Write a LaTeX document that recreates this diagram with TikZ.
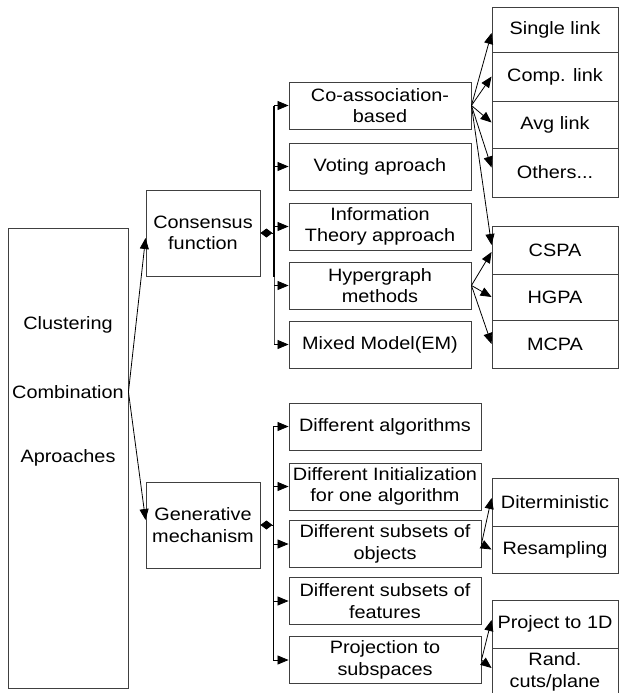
\documentclass[tikz,border=0pt]{standalone}
\usepackage{fontspec}
\setmainfont{Liberation Sans}[FakeStretch=1.11]
\usetikzlibrary{arrows.meta,calc}
\begin{document}
\begin{tikzpicture}[x=1pt,y=-1pt,
  box/.style={draw=black!75,line width=0.9pt,rectangle,inner sep=0pt,align=center,
    font=\fontsize{17.9}{21.5}\selectfont},
  mid/.style={box,minimum width=182pt,minimum height=47pt},
  gmid/.style={box,minimum width=192pt,minimum height=47pt},
  rbox/.style={box,minimum width=126pt},
  txt/.style={inner sep=0pt,font=\fontsize{17.9}{21.5}\selectfont},
  arr/.style={line width=0.8pt,-{Triangle[length=11pt,width=9pt]}},
  dia/.style={line width=0.8pt,{Diamond[length=12pt,width=9pt]}-},
  bus/.style={line width=1.8pt}]
\useasboundingbox (0,0) rectangle (619,693);
% left box
\node[box,minimum width=120pt,minimum height=460pt] (clus) at (68,458) {};
\node[txt] (t1) at (68,325) {Clustering};
\node[txt] (comb) at (68,392) {Combination};
\node[txt] (t3) at (68,458) {Aproaches};
% level 2
\node[box,minimum width=114pt,minimum height=86pt] (cons) at (203,233) {Consensus\\function};
\node[box,minimum width=114pt,minimum height=86pt] (gen) at (203,525) {Generative\\mechanism};
\coordinate (cs) at (clus.east |- comb);
\draw[arr] (cs) -- ([yshift=-5pt]cons.west);
\draw[arr] (cs) -- ([yshift=5pt]gen.west);
% consensus children
\node[mid] (coa) at (380,105.5) {Co-association-\\based};
\node[mid] (vot) at (380,166.5) {Voting aproach};
\node[mid] (inf) at (380,226.5) {Information\\Theory approach};
\node[mid] (hyp) at (380,285.5) {Hypergraph\\methods};
\node[mid] (mix) at (380,344.5) {Mixed Model(EM)};
\coordinate (cb) at (274,233);
\coordinate (cbm) at (274,277);
\draw[dia] (cons.east) -- (cb);
\draw[bus] (cb |- coa.west) -- (cbm);
\draw[line width=0.9pt,black!70] (cbm) -- (cb |- mix.west);
\foreach \n in {coa,vot,inf,hyp,mix} \draw[arr] (cb |- \n.west) -- (\n.west);
% right boxes (consensus)
\node[rbox,minimum height=45pt] (sgl) at (555,29.5) {Single link};
\node[rbox,minimum height=49pt] (cmp) at (555,76.5) {Comp. link};
\node[rbox,minimum height=47pt] (avg) at (555,124.5) {Avg link};
\node[rbox,minimum height=49pt] (oth) at (555,172.5) {Others...};
\node[rbox,minimum height=48pt] (cspa) at (555,250) {CSPA};
\node[rbox,minimum height=46pt] (hgpa) at (555,297) {HGPA};
\node[rbox,minimum height=48pt] (mcpa) at (555,344) {MCPA};
\draw[arr] (coa.east) -- ([yshift=-3.5pt]sgl.west);
\draw[arr] (coa.east) -- (cmp.west);
\draw[arr] (coa.east) -- ([yshift=2pt]avg.west);
\draw[arr] (coa.east) -- ([yshift=5pt]oth.west);
\draw[arr] (coa.east) -- ([yshift=5pt]cspa.west);
\draw[arr] (hyp.east) -- ([yshift=-2pt]cspa.west);
\draw[arr] (hyp.east) -- (hgpa.west);
\draw[arr] (hyp.east) -- (mcpa.west);
% generative children
\node[gmid] (dal) at (385,426.5) {Different algorithms};
\node[gmid] (din) at (385,486.5) {Different Initialization\\for one algorithm};
\node[gmid] (dso) at (385,544) {Different subsets of\\objects};
\node[gmid] (dsf) at (385,601) {Different subsets of\\features};
\node[gmid] (prj) at (385,660) {Projection to\\subspaces};
\coordinate (gb) at (273,525);
\draw[dia] (gen.east) -- (gb);
\draw[line width=0.8pt] (gb |- dal.west) -- (gb |- prj.west);
\foreach \n in {dal,din,dso,dsf,prj} \draw[arr] (gb |- \n.west) -- (\n.west);
% right boxes (generative)
\node[rbox,minimum height=48pt] (dit) at (555,502) {Diterministic};
\node[rbox,minimum height=47pt] (res) at (555,549.5) {Resampling};
\node[rbox,minimum height=48pt] (p1d) at (555,624) {Project to 1D};
\node[rbox,minimum height=48pt] (rnd) at (555,672) {Rand.\\cuts/plane};
\draw[arr] (dso.east) -- ([yshift=4pt]dit.west);
\draw[arr] (dso.east) -- (res.west);
\draw[arr] (prj.east) -- ([yshift=4pt]p1d.west);
\draw[arr] (prj.east) -- ([yshift=4pt]rnd.west);
\end{tikzpicture}
\end{document}
